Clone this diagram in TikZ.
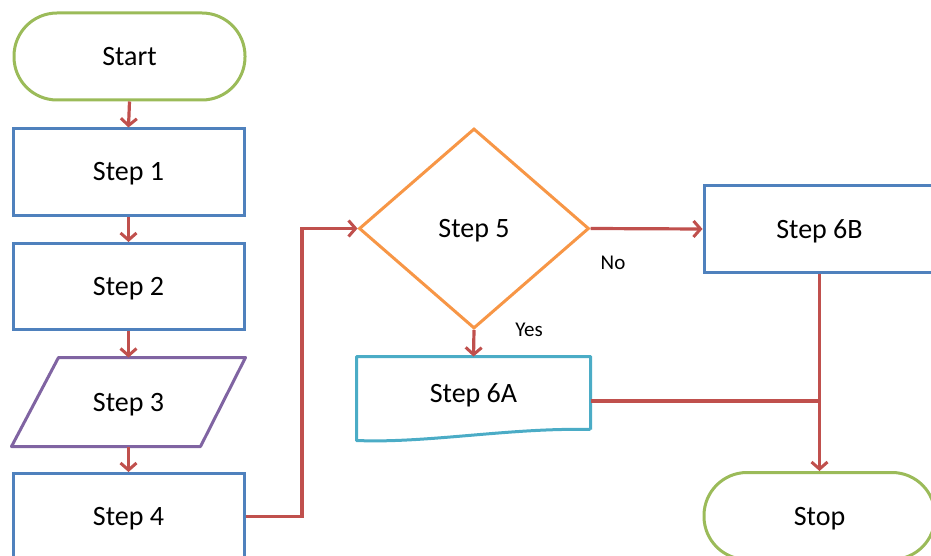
\documentclass[tikz,border=0pt]{standalone}
\usepackage{fontspec}
\setmainfont{Carlito}
\usetikzlibrary{shapes.geometric,arrows.meta}
\definecolor{cgreen}{HTML}{9BBB59}
\definecolor{cblue}{HTML}{4F81BD}
\definecolor{cpurple}{HTML}{8064A2}
\definecolor{corange}{HTML}{F79646}
\definecolor{ccyan}{HTML}{4BACC6}
\definecolor{cred}{HTML}{C0504D}
\tikzset{
  base/.style={line width=3pt, minimum width=231pt, minimum height=86pt, inner sep=0pt,
    text height=18pt, text depth=0pt, font=\fontsize{28}{34}\selectfont},
  termbox/.style={base, draw=cgreen, rounded corners=43pt, minimum height=87pt},
  procbox/.style={base, draw=cblue},
  iobox/.style={base},
  docbox/.style={base, minimum height=70pt},
  decbox/.style={diamond, draw=corange, line width=3pt, minimum width=230pt, minimum height=200pt,
    inner sep=0pt, text height=18pt, text depth=0pt, font=\fontsize{28}{34}\selectfont},
  conn/.style={draw=cred, line width=3.2pt},
  arr/.style={conn, -{Straight Barb[length=7pt,width=16pt,line width=3pt]}},
  lbl/.style={font=\fontsize{21}{25}\selectfont, inner sep=0pt}
}
\begin{document}
\begin{tikzpicture}[x=1pt,y=-1pt]
\useasboundingbox (0,0) rectangle (931,556);
\node[termbox] (start) at (129.5,56.5) {Start};
\node[procbox] (s1) at (128.5,172) {Step 1};
\node[procbox] (s2) at (128.5,286.5) {Step 2};
\node[iobox] (s3) at (128.5,402) {Step 3};
\draw[cpurple, line width=3pt, line join=round] (s3.north west) ++(47,0) -- (s3.north east) -- ([xshift=-45pt]s3.south east) -- (s3.south west) -- cycle;
\node[procbox] (s4) at (128.5,516.5) {Step 4};
\node[decbox] (s5) at (474,228.5) {Step 5};
\node[procbox] (s6b) at (819.5,229) {Step 6B};
\node[docbox] (s6a) at (473.5,393) {Step 6A};
\draw[ccyan, line width=3pt, line join=round] (s6a.south east) -- (s6a.north east) -- (s6a.north west) -- ([yshift=-11pt]s6a.south west) .. controls ++(70,3) and ++(-80,-2) .. (s6a.south east);
\node[termbox] (stop) at (819.5,516) {Stop};

\draw[arr] (start.south) -- (s1.north);
\draw[arr] (s1.south) -- (s2.north);
\draw[arr] (s2.south) -- (s3.north);
\draw[arr] (s3.south) -- (s4.north);
\coordinate (bend) at (302,516.5);
\draw[arr] (s4.east) -- (bend) |- (s5.west);
\draw[arr] (s5.east) -- (s6b.west);
\draw[arr] (s5.south) -- (s6a.north);
\coordinate (join) at (s6b.south |- 0,401);
\draw[conn] (s6a.east |- join) -- (join);
\draw[arr] (s6b.south) -- (stop.north);
\node[lbl] (no) at (613,263) {No};
\node[lbl] (yes) at (529,330) {Yes};
\end{tikzpicture}
\end{document}
